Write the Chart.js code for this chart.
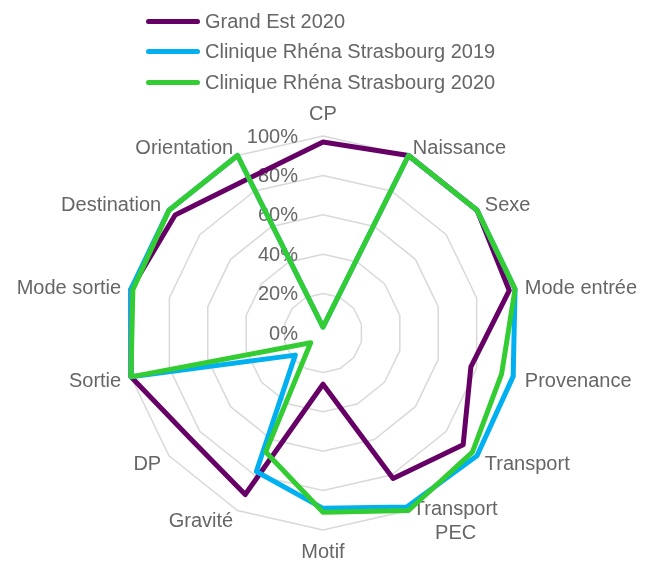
<!DOCTYPE html>
<html>
<head>
<meta charset="utf-8">
<script src="https://cdn.jsdelivr.net/npm/chart.js@4"></script>
<style>
  html, body { margin: 0; padding: 0; background: #fff; }
  #wrap { position: relative; width: 656px; height: 563px; }
  #legend { position: absolute; left: 146px; top: 6px; font-family: "Liberation Sans", Arial, sans-serif; font-size: 20px; color: #666666; }
  .item { display: flex; align-items: center; height: 30.5px; white-space: nowrap; }
  .swatch { width: 54px; height: 5px; border-radius: 3px; margin-right: 5px; }
</style>
</head>
<body>
<div id="wrap">
  <canvas id="radar" width="656" height="563"></canvas>
  <div id="legend"></div>
</div>
<script>
const categories = ['CP', 'Naissance', 'Sexe', 'Mode entrée', 'Provenance', 'Transport', ['Transport', '    PEC'], 'Motif', 'Gravité', 'DP', 'Sortie', 'Mode sortie', 'Destination', 'Orientation'];
const seriesNames = ['Grand Est 2020', 'Clinique Rhéna Strasbourg 2019', 'Clinique Rhéna Strasbourg 2020'];
const grandEst2020 = [97, 100, 100, 97, 77, 91, 82, 26, 91, 86, 100, 100, 96, 87];
const rhena2019 = [3, 100, 100, 100, 99, 100, 98, 89, 78, 18, 100, 100, 100, 100];
const rhena2020 = [3, 100, 100, 100, 93, 97, 100, 91, 67, 8, 100, 99, 100, 100];
const tickValues = [0, 20, 40, 60, 80, 100];

const colors = ['#660066', '#00b0f0', '#33cc33'];
const textColor = '#666666';
const fontFamily = '"Liberation Sans", Arial, sans-serif';

// where the web sits on the page
const radarCenterX = 323;
const radarCenterY = 333;
const radarRadius = 197;
const labelGap = 10;

// legend as plain html, stacked like the original
const legend = document.getElementById('legend');
seriesNames.forEach((name, i) => {
  legend.innerHTML += '<div class="item"><span class="swatch" style="background:' + colors[i] + '"></span>' + name + '</div>';
});

// tick labels right aligned left of the vertical axis
const tickLabels = {
  id: 'tickLabels',
  beforeDatasetsDraw(chart) {
    const r = chart.scales.r;
    const ctx = chart.ctx;
    ctx.save();
    ctx.font = '20px ' + fontFamily;
    ctx.fillStyle = textColor;
    ctx.textAlign = 'right';
    ctx.textBaseline = 'middle';
    tickValues.forEach((v) => {
      ctx.fillText(v + '%', r.xCenter - 25, r.yCenter - r.getDistanceFromCenterForValue(v) + 1);
    });
    ctx.restore();
  }
};

// place the web like excel did, and centre side labels on their anchor
const placeRadar = {
  id: 'placeRadar',
  afterLayout(chart) {
    const s = chart.scales.r;
    s.xCenter = radarCenterX;
    s.yCenter = radarCenterY;
    s.drawingArea = radarRadius;
    const n = categories.length;
    (s._pointLabelItems || []).forEach((item, i) => {
      const w = item.right - item.left;
      const h = item.bottom - item.top;
      const p = s.getPointPosition(i, radarRadius + labelGap);
      const deg = Math.round(i * 360 / n);
      let y = p.y - h / 2 + 2;
      if (deg === 0) y = p.y - h;
      if (deg === 180) y = p.y;
      let left = p.x - w / 2;
      if (item.textAlign === 'left') left = p.x;
      if (item.textAlign === 'right') left = p.x - w;
      Object.assign(item, { x: p.x, y: y, top: y, bottom: y + h, left: left, right: left + w });
    });
  }
};

const allSeries = [grandEst2020, rhena2019, rhena2020];
const data = {
  labels: categories,
  datasets: allSeries.map((values, i) => ({
    label: seriesNames[i],
    data: values,
    borderColor: colors[i],
    backgroundColor: colors[i],
    borderWidth: 5,
    borderJoinStyle: 'round',
    pointRadius: 0,
    fill: false,
    order: 3 - i
  }))
};

const options = {
  responsive: false,
  animation: false,
  plugins: { legend: { display: false }, tooltip: { enabled: false } },
  scales: {
    r: {
      min: 0,
      max: 100,
      ticks: { stepSize: 20, display: false },
      grid: { color: '#d9d9d9', lineWidth: 1.5 },
      angleLines: { display: false },
      pointLabels: { font: { size: 20, family: fontFamily }, color: textColor, padding: labelGap }
    }
  }
};

const ctx = document.getElementById('radar').getContext('2d');
new Chart(ctx, { type: 'radar', data: data, options: options, plugins: [tickLabels, placeRadar] });
</script>
</body>
</html>
